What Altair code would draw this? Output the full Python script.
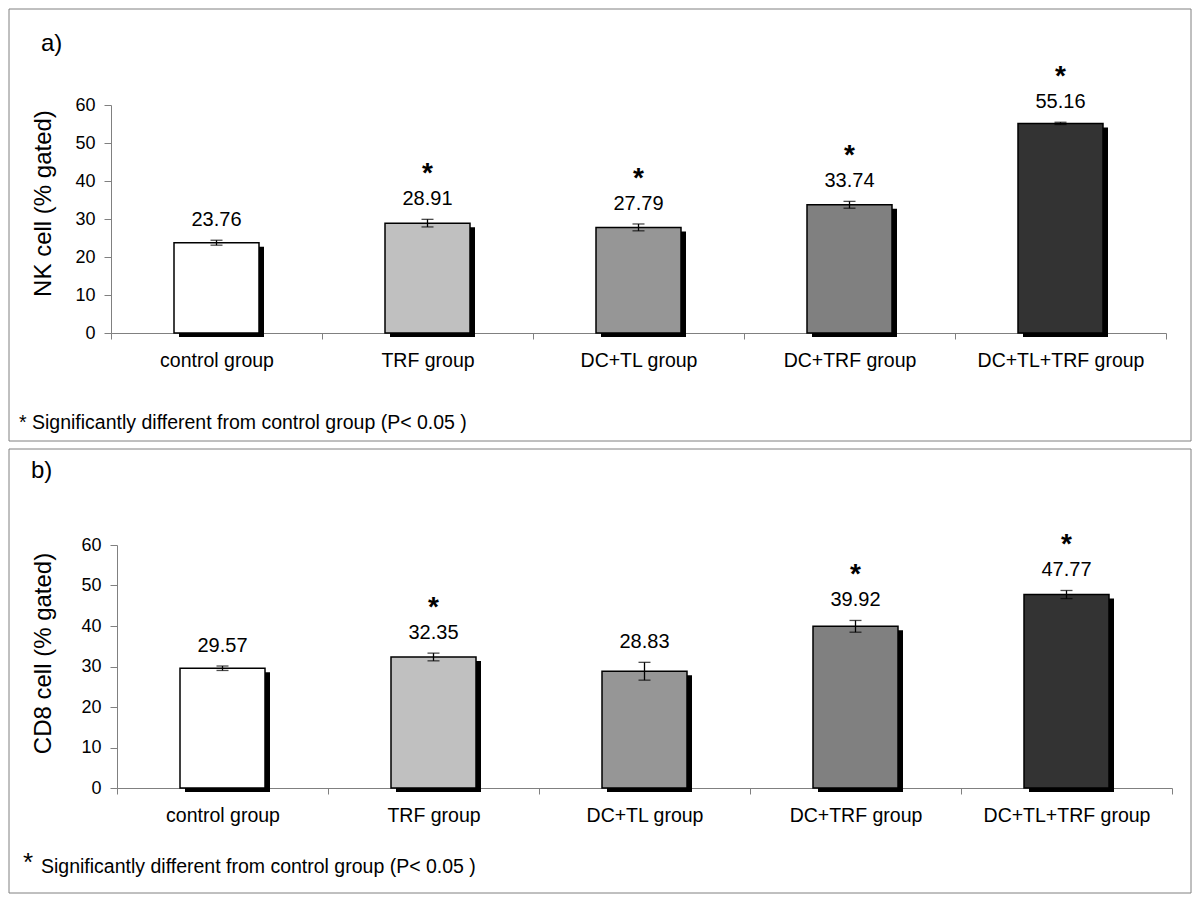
import altair as alt
import pandas as pd

groups = ["control group", "TRF group", "DC+TL group", "DC+TRF group", "DC+TL+TRF group"]
nk_values = [23.76, 28.91, 27.79, 33.74, 55.16]
nk_errors = [0.65, 1.0, 0.9, 0.9, 0.3]
nk_sig = [False, True, True, True, True]
cd8_values = [29.57, 32.35, 28.83, 39.92, 47.77]
cd8_errors = [0.55, 0.95, 2.2, 1.45, 1.0]
cd8_sig = [False, True, False, True, True]
fills = ["#ffffff", "#c0c0c0", "#969696", "#808080", "#333333"]
y_ticks = [0, 10, 20, 30, 40, 50, 60]

FONT = "Liberation Sans"
h_plot = {"a)": 228, "b)": 243}
NOTE = "Significantly different from control group (P< 0.05 )"


def panel(values, errors, sig, ytitle, letter, h, xshift, title_y, note_big):
    df = pd.DataFrame({
        "group": groups,
        "value": values,
        "err": errors,
        "sig": sig,
        "fill": fills,
    })
    df["lo"] = df["value"] - df["err"]
    df["hi"] = df["value"] + df["err"]
    df["star"] = ["*" if s else "" for s in sig]

    xscale = alt.Scale(domain=groups, paddingInner=0, paddingOuter=0,
                       range=[xshift, 1055 + xshift])
    xaxis = alt.Axis(title=None, tickBand="extent", tickSize=6, labelPadding=12,
                     labelFontSize=19.5, labelColor="black", domainColor="#808080",
                     tickColor="#808080", labelFont=FONT, labelAngle=0)
    yscale = alt.Scale(domain=[0, 60], nice=False, zero=True)
    yaxis = alt.Axis(title=ytitle, values=y_ticks, grid=False, tickSize=7,
                     labelPadding=9, labelFontSize=18, labelColor="black",
                     domainColor="#808080", tickColor="#808080", labelFont=FONT,
                     titleFont=FONT, titleFontSize=24, titleFontWeight="normal",
                     titleColor="black", titleX=-68 - xshift, titleY=title_y,
                     titleAlign="center", titleBaseline="middle", titleAngle=-90,
                     offset=-xshift)

    x_enc = alt.X("group:N", sort=groups, scale=xscale, axis=xaxis)

    def yenc(field):
        return alt.Y(field + ":Q", scale=yscale, axis=yaxis)

    base = alt.Chart(df)
    one = alt.Chart(pd.DataFrame({"k": [0]}))

    border = one.mark_rect(fill=None, stroke="#808080", strokeWidth=1).encode(
        x=alt.value(-102), x2=alt.value(1080), y=alt.value(-96), y2=alt.value(h)
    )
    lab = one.mark_text(text=letter, fontSize=24, font=FONT, align="left",
                        baseline="middle", color="black").encode(
        x=alt.value(-70 if letter == "a)" else -80),
        y=alt.value(-61 if letter == "a)" else -74),
    )
    if note_big:
        note_star = one.mark_text(text="*", fontSize=26, font=FONT, align="left",
                                  baseline="middle", color="black").encode(
            x=alt.value(-88), y=alt.value(318))
        note_text = one.mark_text(text=NOTE, fontSize=19.5, font=FONT, align="left",
                                  baseline="middle", color="black").encode(
            x=alt.value(-70), y=alt.value(322))
        notes = [note_star, note_text]
    else:
        notes = [one.mark_text(text="* " + NOTE, fontSize=19.5, font=FONT, align="left",
                               baseline="middle", color="black").encode(
            x=alt.value(-92), y=alt.value(318))]

    shadow = base.mark_bar(size=85, color="black", xOffset=5, yOffset=4).encode(
        x=x_enc, y=yenc("value")
    )
    bars = base.mark_bar(size=85, stroke="black", strokeWidth=1.5).encode(
        x=x_enc, y=yenc("value"),
        fill=alt.Fill("fill:N", scale=None),
    )
    rule = base.mark_rule(color="black", strokeWidth=1.3).encode(
        x=x_enc, y=yenc("lo"), y2="hi:Q"
    )
    cap_hi = base.mark_tick(color="black", size=12, thickness=1.3, orient="horizontal").encode(
        x=x_enc, y=yenc("hi")
    )
    cap_lo = base.mark_tick(color="black", size=12, thickness=1.3, orient="horizontal").encode(
        x=x_enc, y=yenc("lo")
    )
    vlabels = base.mark_text(fontSize=20, font=FONT, baseline="middle", dy=-20,
                             color="black").encode(
        x=x_enc, y=yenc("hi"), text=alt.Text("value:Q", format=".2f")
    )
    stars = base.mark_text(fontSize=28, font=FONT, fontWeight="bold",
                           baseline="alphabetic", dy=-37, color="black").encode(
        x=x_enc, y=yenc("hi"), text="star:N"
    )
    layers = [border, lab] + notes + [shadow, bars, rule, cap_hi, cap_lo, vlabels, stars]
    return alt.layer(*layers).properties(width=1055 + xshift, height=h_plot[letter])


pa = panel(nk_values, nk_errors, nk_sig, "NK cell (% gated)", "a)", 336, 0, 98, False)
pb = panel(cd8_values, cd8_errors, cd8_sig, "CD8 cell (% gated)", "b)", 348, 6, 108, True)

chart = alt.vconcat(pa, pb, spacing=212, bounds="flush").properties(
    padding=0
).configure(
    font=FONT, background="white", view=alt.ViewConfig(stroke=None)
)

chart.save("out.html", embed_options={"renderer": "svg", "actions": False})
